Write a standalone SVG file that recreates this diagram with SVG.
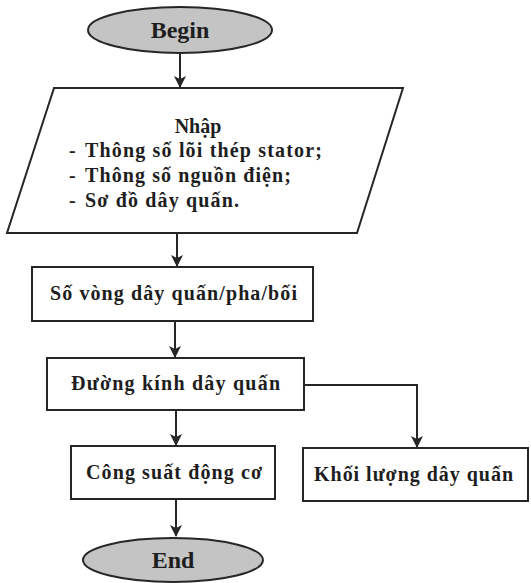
<svg xmlns="http://www.w3.org/2000/svg" width="531" height="583" viewBox="0 0 531 583">
  <style>
    .shape { fill: #ffffff; stroke: #262626; stroke-width: 2; }
    .term { fill: #c4c4c4; stroke: #262626; stroke-width: 2; }
    .label { font-family: "Liberation Serif", "DejaVu Serif", serif; font-weight: bold; font-size: 20px; fill: #1e1e1e; }
    .big { font-size: 24px; }
    .edge { fill: none; stroke: #262626; stroke-width: 2; }
  </style>
  <defs>
    <marker id="arrow" markerWidth="12" markerHeight="14" refX="11" refY="7" orient="auto" markerUnits="userSpaceOnUse">
      <path d="M0,1 L12,7 L0,13 L3,7 z" fill="#262626"/>
    </marker>
  </defs>
  <rect width="531" height="583" fill="#ffffff"/>

  <g id="connectors">
    <line class="edge" x1="180" y1="53" x2="180" y2="87" marker-end="url(#arrow)"/>
    <line class="edge" x1="177" y1="234" x2="177" y2="266" marker-end="url(#arrow)"/>
    <line class="edge" x1="175" y1="322" x2="175" y2="357" marker-end="url(#arrow)"/>
    <line class="edge" x1="176" y1="411" x2="176" y2="445" marker-end="url(#arrow)"/>
    <polyline class="edge" points="304,385 417,385 417,447" marker-end="url(#arrow)"/>
    <line class="edge" x1="176" y1="500" x2="176" y2="536" marker-end="url(#arrow)"/>
  </g>

  <g id="begin">
    <ellipse class="term" cx="180" cy="30" rx="92" ry="23"/>
    <text class="label big" x="180" y="38" text-anchor="middle">Begin</text>
  </g>

  <g id="input">
    <polygon class="shape" points="54,88 403,88 357,233 7,233"/>
    <text class="label" x="198" y="133" text-anchor="middle">Nhập</text>
    <text class="label" x="69" y="157">- <tspan x="85" textLength="237" lengthAdjust="spacing">Thông số lõi thép stator;</tspan></text>
    <text class="label" x="69" y="182">- <tspan x="85" textLength="206" lengthAdjust="spacing">Thông số nguồn điện;</tspan></text>
    <text class="label" x="69" y="207">- <tspan x="85" textLength="154" lengthAdjust="spacing">Sơ đồ dây quấn.</tspan></text>
  </g>

  <g id="turns">
    <rect class="shape" x="32" y="267" width="281" height="54"/>
    <text class="label" x="50" y="300" textLength="247" lengthAdjust="spacing">Số vòng dây quấn/pha/bối</text>
  </g>

  <g id="diameter">
    <rect class="shape" x="47" y="358" width="257" height="52"/>
    <text class="label" x="71" y="390" textLength="209" lengthAdjust="spacing">Đường kính dây quấn</text>
  </g>

  <g id="power">
    <rect class="shape" x="71" y="446" width="204" height="53"/>
    <text class="label" x="86" y="479" textLength="176" lengthAdjust="spacing">Công suất động cơ</text>
  </g>

  <g id="mass">
    <rect class="shape" x="303" y="448" width="225" height="53"/>
    <text class="label" x="314" y="481" textLength="199" lengthAdjust="spacing">Khối lượng dây quấn</text>
  </g>

  <g id="end">
    <ellipse class="term" cx="173" cy="560" rx="90" ry="22"/>
    <text class="label big" x="173" y="568" text-anchor="middle">End</text>
  </g>
</svg>
